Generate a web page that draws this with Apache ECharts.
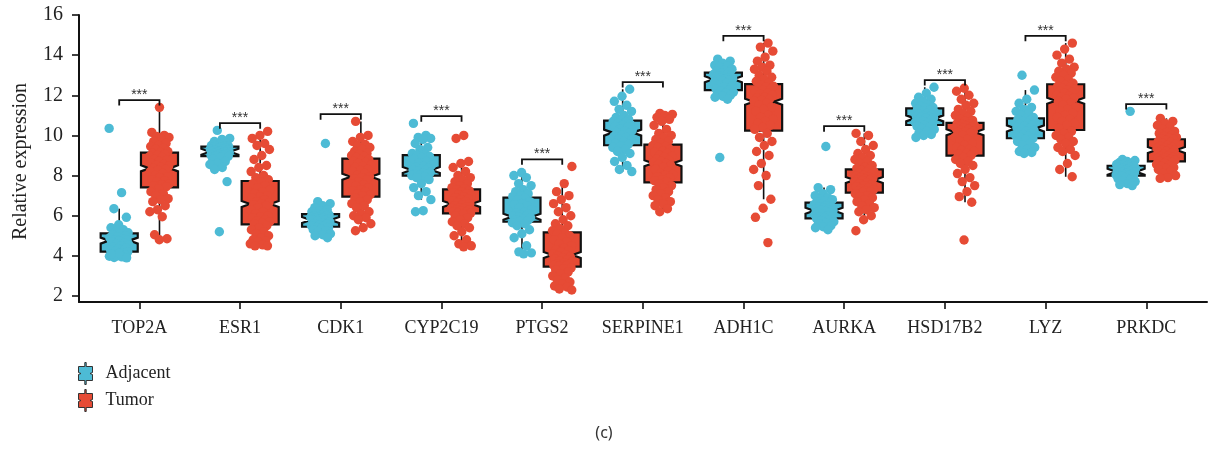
<!DOCTYPE html>
<html>
<head>
<meta charset="utf-8">
<script src="https://cdn.jsdelivr.net/npm/echarts@6/dist/echarts.min.js"></script>
<style>
  html, body { margin: 0; padding: 0; background: #fff; }
  #chart { width: 1208px; height: 449px; }
</style>
</head>
<body>
<div id="chart"></div>
<script>
// Genes on the x axis
const genes = ['TOP2A', 'ESR1', 'CDK1', 'CYP2C19', 'PTGS2', 'SERPINE1', 'ADH1C', 'AURKA', 'HSD17B2', 'LYZ', 'PRKDC'];
const groups = ['Adjacent', 'Tumor'];
const yTickLabels = [2, 4, 6, 8, 10, 12, 14, 16];
const significance = ['***', '***', '***', '***', '***', '***', '***', '***', '***', '***', '***'];

// Box statistics per gene: [lower whisker, Q1, median, Q3, upper whisker]
const adjacentBox = [
  [3.9, 4.21, 4.76, 5.12, 6.35],
  [8.3, 8.97, 9.19, 9.44, 9.85],
  [4.9, 5.45, 5.79, 6.08, 6.7],
  [6.8, 8.0, 8.28, 9.02, 10.0],
  [4.1, 5.7, 5.95, 6.9, 8.15],
  [8.2, 9.51, 10.14, 10.74, 12.3],
  [11.8, 12.26, 12.8, 13.13, 13.8],
  [5.3, 5.87, 6.25, 6.65, 7.4],
  [9.9, 10.52, 10.85, 11.35, 12.4],
  [9.1, 9.86, 10.35, 10.85, 12.26],
  [7.5, 8.0, 8.19, 8.49, 8.8]
];
const tumorBox = [
  [4.8, 7.41, 8.36, 9.14, 11.4],
  [4.5, 5.57, 6.58, 7.73, 10.2],
  [5.25, 6.95, 7.94, 8.84, 10.7],
  [4.45, 6.12, 6.58, 7.31, 8.7],
  [2.3, 3.46, 4.04, 5.17, 7.6],
  [6.2, 7.66, 8.61, 9.54, 11.1],
  [6.82, 10.24, 11.68, 12.56, 14.6],
  [5.8, 7.15, 7.78, 8.31, 10.1],
  [6.67, 8.99, 10.16, 10.63, 12.35],
  [7.94, 10.27, 11.73, 12.55, 14.6],
  [7.86, 8.71, 9.27, 9.81, 10.85]
];

// Individual sample values per gene
const adjacentPoints = [
  [10.35, 7.15, 6.35, 5.92, 5.55, 5.4, 5.3, 5.2, 5.15, 5.1, 5.05, 5.0, 4.95, 4.9, 4.85, 4.8, 4.78, 4.75, 4.7, 4.65, 4.6, 4.55, 4.5, 4.45, 4.4, 4.35, 4.3, 4.25, 4.22, 4.2, 4.15, 4.1, 4.05, 4.0, 3.98, 3.95, 3.92, 3.9, 4.12, 4.08],
  [10.25, 9.85, 9.8, 9.7, 9.6, 9.55, 9.5, 9.48, 9.46, 9.45, 9.42, 9.4, 9.38, 9.35, 9.32, 9.3, 9.28, 9.25, 9.22, 9.2, 9.19, 9.17, 9.15, 9.12, 9.1, 9.08, 9.05, 9.02, 9.0, 8.98, 8.95, 8.9, 8.8, 8.7, 8.6, 8.55, 8.4, 8.3, 7.7, 5.2],
  [9.6, 6.7, 6.6, 6.5, 6.4, 6.3, 6.25, 6.2, 6.15, 6.1, 6.05, 6.02, 6.0, 5.98, 5.95, 5.92, 5.9, 5.88, 5.85, 5.82, 5.8, 5.78, 5.75, 5.7, 5.65, 5.6, 5.58, 5.55, 5.5, 5.47, 5.42, 5.4, 5.35, 5.3, 5.25, 5.2, 5.1, 5.05, 5.0, 4.9],
  [10.6, 10.0, 9.9, 9.85, 9.8, 9.6, 9.4, 9.3, 9.1, 9.05, 9.0, 8.95, 8.9, 8.8, 8.7, 8.6, 8.5, 8.45, 8.4, 8.35, 8.3, 8.28, 8.25, 8.2, 8.15, 8.1, 8.08, 8.05, 8.02, 8.0, 7.95, 7.9, 7.8, 7.6, 7.4, 7.2, 7.0, 6.8, 6.25, 6.2],
  [8.15, 8.0, 7.9, 7.6, 7.5, 7.3, 7.2, 7.1, 7.0, 6.95, 6.88, 6.8, 6.7, 6.6, 6.55, 6.5, 6.4, 6.3, 6.2, 6.15, 6.1, 6.05, 6.0, 5.98, 5.95, 5.9, 5.85, 5.8, 5.75, 5.72, 5.65, 5.6, 5.5, 5.3, 5.1, 4.9, 4.5, 4.2, 4.15, 4.1],
  [12.3, 11.95, 11.7, 11.5, 11.3, 11.2, 11.0, 10.9, 10.8, 10.76, 10.7, 10.65, 10.6, 10.55, 10.5, 10.45, 10.4, 10.3, 10.25, 10.2, 10.15, 10.1, 10.0, 9.95, 9.9, 9.8, 9.75, 9.7, 9.6, 9.55, 9.45, 9.4, 9.3, 9.2, 9.1, 8.9, 8.7, 8.5, 8.3, 8.2],
  [13.8, 13.7, 13.6, 13.5, 13.45, 13.4, 13.3, 13.25, 13.2, 13.15, 13.1, 13.05, 13.0, 12.98, 12.95, 12.92, 12.9, 12.88, 12.85, 12.82, 12.8, 12.78, 12.75, 12.7, 12.65, 12.6, 12.5, 12.45, 12.4, 12.3, 12.25, 12.2, 12.15, 12.1, 12.05, 12.0, 11.95, 11.9, 11.8, 8.9],
  [9.45, 7.4, 7.3, 7.1, 7.0, 6.9, 6.85, 6.8, 6.75, 6.7, 6.62, 6.6, 6.55, 6.5, 6.45, 6.42, 6.4, 6.35, 6.3, 6.28, 6.25, 6.22, 6.2, 6.15, 6.1, 6.05, 6.0, 5.95, 5.92, 5.9, 5.85, 5.8, 5.75, 5.7, 5.65, 5.6, 5.5, 5.45, 5.4, 5.3],
  [12.4, 12.1, 11.9, 11.8, 11.7, 11.6, 11.5, 11.45, 11.4, 11.38, 11.3, 11.25, 11.2, 11.15, 11.1, 11.05, 11.0, 10.98, 10.95, 10.92, 10.9, 10.88, 10.85, 10.8, 10.75, 10.7, 10.65, 10.6, 10.58, 10.55, 10.5, 10.45, 10.4, 10.35, 10.3, 10.2, 10.1, 10.05, 10.0, 9.9],
  [13.0, 12.26, 11.8, 11.6, 11.4, 11.3, 11.2, 11.1, 11.0, 10.9, 10.82, 10.8, 10.75, 10.7, 10.65, 10.6, 10.55, 10.5, 10.45, 10.4, 10.35, 10.3, 10.25, 10.2, 10.15, 10.1, 10.05, 10.0, 9.95, 9.9, 9.85, 9.8, 9.7, 9.6, 9.5, 9.4, 9.3, 9.2, 9.15, 9.1],
  [11.2, 8.8, 8.75, 8.7, 8.65, 8.6, 8.58, 8.55, 8.52, 8.5, 8.47, 8.45, 8.42, 8.4, 8.38, 8.35, 8.32, 8.3, 8.28, 8.25, 8.22, 8.2, 8.18, 8.15, 8.12, 8.1, 8.08, 8.05, 8.03, 8.01, 7.98, 7.95, 7.9, 7.85, 7.8, 7.75, 7.7, 7.6, 7.55, 7.5]
];
const tumorPoints = [
  [11.4, 10.15, 10.0, 9.95, 9.9, 9.8, 9.7, 9.6, 9.5, 9.45, 9.35, 9.3, 9.2, 9.15, 9.1, 9.05, 9.0, 8.95, 8.9, 8.8, 8.75, 8.7, 8.6, 8.55, 8.5, 8.45, 8.4, 8.35, 8.3, 8.25, 8.2, 8.1, 8.0, 7.95, 7.9, 7.8, 7.75, 7.7, 7.6, 7.55, 7.5, 7.45, 7.35, 7.2, 7.1, 7.0, 6.85, 6.8, 6.7, 6.5, 6.3, 6.2, 5.95, 5.05, 4.85, 4.8],
  [10.2, 10.0, 9.85, 9.6, 9.5, 9.3, 9.0, 8.8, 8.5, 8.4, 8.2, 8.0, 7.9, 7.8, 7.7, 7.6, 7.5, 7.4, 7.3, 7.2, 7.1, 7.0, 6.95, 6.9, 6.8, 6.7, 6.65, 6.6, 6.55, 6.5, 6.4, 6.3, 6.2, 6.1, 6.0, 5.95, 5.9, 5.8, 5.75, 5.7, 5.65, 5.6, 5.5, 5.4, 5.3, 5.2, 5.1, 5.0, 4.9, 4.8, 4.75, 4.7, 4.6, 4.55, 4.5, 4.5],
  [10.7, 10.0, 9.9, 9.7, 9.55, 9.5, 9.4, 9.3, 9.2, 9.1, 9.05, 9.0, 8.95, 8.9, 8.8, 8.75, 8.7, 8.65, 8.6, 8.5, 8.45, 8.4, 8.3, 8.25, 8.2, 8.1, 8.0, 7.95, 7.9, 7.85, 7.8, 7.7, 7.6, 7.55, 7.5, 7.4, 7.3, 7.25, 7.2, 7.1, 7.05, 7.0, 6.9, 6.8, 6.7, 6.6, 6.5, 6.4, 6.2, 6.1, 6.0, 5.9, 5.8, 5.6, 5.4, 5.25],
  [10.0, 9.85, 8.7, 8.6, 8.4, 8.2, 8.0, 7.9, 7.8, 7.7, 7.6, 7.5, 7.4, 7.35, 7.3, 7.25, 7.2, 7.15, 7.1, 7.05, 7.0, 6.95, 6.9, 6.85, 6.8, 6.75, 6.7, 6.65, 6.6, 6.55, 6.5, 6.45, 6.4, 6.38, 6.35, 6.3, 6.28, 6.25, 6.2, 6.18, 6.15, 6.13, 6.1, 6.0, 5.9, 5.8, 5.7, 5.6, 5.5, 5.4, 5.2, 5.0, 4.8, 4.6, 4.5, 4.45],
  [8.45, 7.6, 7.2, 7.0, 6.8, 6.6, 6.4, 6.2, 6.0, 5.8, 5.6, 5.5, 5.35, 5.25, 5.15, 5.1, 5.0, 4.9, 4.8, 4.7, 4.6, 4.5, 4.4, 4.3, 4.25, 4.2, 4.1, 4.05, 4.0, 3.95, 3.9, 3.85, 3.8, 3.75, 3.7, 3.65, 3.6, 3.58, 3.55, 3.52, 3.5, 3.48, 3.4, 3.35, 3.3, 3.2, 3.1, 3.0, 2.9, 2.8, 2.7, 2.6, 2.5, 2.45, 2.35, 2.3],
  [11.1, 11.05, 11.0, 10.9, 10.8, 10.7, 10.5, 10.3, 10.1, 10.0, 9.9, 9.8, 9.7, 9.6, 9.5, 9.45, 9.4, 9.3, 9.2, 9.15, 9.1, 9.0, 8.95, 8.9, 8.8, 8.75, 8.7, 8.65, 8.6, 8.55, 8.5, 8.4, 8.3, 8.2, 8.1, 8.05, 8.0, 7.95, 7.9, 7.8, 7.75, 7.7, 7.6, 7.5, 7.4, 7.3, 7.2, 7.1, 7.0, 6.9, 6.8, 6.7, 6.6, 6.5, 6.35, 6.2],
  [14.6, 14.4, 14.2, 13.9, 13.7, 13.5, 13.4, 13.3, 13.2, 13.0, 12.9, 12.8, 12.7, 12.6, 12.5, 12.45, 12.4, 12.35, 12.3, 12.25, 12.2, 12.1, 12.05, 12.0, 11.9, 11.85, 11.8, 11.75, 11.7, 11.6, 11.5, 11.4, 11.3, 11.2, 11.0, 10.9, 10.8, 10.7, 10.6, 10.5, 10.4, 10.3, 10.1, 9.9, 9.7, 9.5, 9.2, 9.0, 8.6, 8.3, 8.0, 7.5, 6.82, 6.37, 5.92, 4.66],
  [10.1, 10.0, 9.7, 9.5, 9.3, 9.1, 9.0, 8.9, 8.8, 8.7, 8.6, 8.5, 8.4, 8.35, 8.3, 8.25, 8.2, 8.15, 8.1, 8.05, 8.0, 7.98, 7.95, 7.9, 7.85, 7.82, 7.8, 7.78, 7.75, 7.7, 7.65, 7.6, 7.55, 7.5, 7.45, 7.4, 7.35, 7.3, 7.25, 7.22, 7.2, 7.17, 7.1, 7.0, 6.95, 6.9, 6.8, 6.7, 6.6, 6.5, 6.4, 6.3, 6.2, 6.0, 5.8, 5.25],
  [12.35, 12.2, 12.0, 11.8, 11.6, 11.5, 11.3, 11.2, 11.1, 11.0, 10.9, 10.8, 10.75, 10.7, 10.6, 10.58, 10.55, 10.5, 10.48, 10.45, 10.4, 10.38, 10.35, 10.3, 10.25, 10.2, 10.18, 10.15, 10.1, 10.0, 9.9, 9.8, 9.7, 9.6, 9.5, 9.4, 9.3, 9.25, 9.2, 9.1, 9.05, 9.0, 8.9, 8.8, 8.7, 8.6, 8.5, 8.3, 8.1, 7.9, 7.7, 7.5, 7.2, 6.95, 6.67, 4.79],
  [14.6, 14.3, 14.0, 13.8, 13.6, 13.4, 13.3, 13.2, 13.1, 13.0, 12.9, 12.8, 12.7, 12.6, 12.5, 12.45, 12.4, 12.35, 12.3, 12.25, 12.2, 12.15, 12.1, 12.0, 11.95, 11.9, 11.85, 11.8, 11.7, 11.6, 11.5, 11.4, 11.3, 11.2, 11.1, 11.0, 10.9, 10.8, 10.7, 10.6, 10.5, 10.35, 10.2, 10.1, 10.0, 9.9, 9.8, 9.7, 9.6, 9.4, 9.3, 9.2, 9.0, 8.6, 8.3, 7.94],
  [10.85, 10.7, 10.6, 10.5, 10.4, 10.3, 10.2, 10.15, 10.1, 10.0, 9.95, 9.9, 9.87, 9.84, 9.8, 9.75, 9.7, 9.65, 9.6, 9.55, 9.5, 9.45, 9.4, 9.38, 9.35, 9.3, 9.28, 9.25, 9.2, 9.15, 9.1, 9.05, 9.0, 8.98, 8.95, 8.9, 8.88, 8.85, 8.8, 8.78, 8.75, 8.72, 8.7, 8.65, 8.6, 8.55, 8.5, 8.45, 8.4, 8.35, 8.3, 8.2, 8.1, 8.0, 7.9, 7.86]
];

// ---- styling ----
const COLORS = ['#4DBBD5', '#E64B35'];
const INK = '#111111';
const TEXT = '#222222';
const SERIF = '"Liberation Serif", "Times New Roman", serif';
const DODGE = 0.2;      // group offset from the category centre, in bands
const HALF_BOX = 0.184; // half box width, in bands
const JITTER = 0.1;     // horizontal spread of the points, in bands
const POINT_R = 4.7;
const NOTCH_PX = 3;     // half height of the median notch, in pixels

const boxes = [adjacentBox, tumorBox];
const points = [adjacentPoints, tumorPoints];

function groupCenter(api, cat, g) {
  const band = api.size([1, 0])[0];
  return api.coord([cat, 0])[0] + (g ? 1 : -1) * DODGE * band;
}

// notched box with whiskers
function renderBox(params, api) {
  const cat = api.value(0), g = api.value(1);
  const lo = api.value(2), q1 = api.value(3), med = api.value(4), q3 = api.value(5), hi = api.value(6);
  const band = api.size([1, 0])[0];
  const cx = groupCenter(api, cat, g);
  const hw = HALF_BOX * band;
  const d = hw * 0.45;
  const y = v => api.coord([cat, v])[1];
  const L = cx - hw, R = cx + hw;
  const yq1 = y(q1), yq3 = y(q3), ym = y(med);
  const ynu = ym - NOTCH_PX, ynl = ym + NOTCH_PX;
  return {
    type: 'group',
    children: [
      { type: 'line', shape: { x1: cx, y1: y(hi), x2: cx, y2: yq3 }, style: { stroke: INK, lineWidth: 1.6 } },
      { type: 'line', shape: { x1: cx, y1: yq1, x2: cx, y2: y(lo) }, style: { stroke: INK, lineWidth: 1.6 } },
      {
        type: 'polygon',
        shape: { points: [[L, yq3], [R, yq3], [R, ynu], [R - d, ym], [R, ynl], [R, yq1], [L, yq1], [L, ynl], [L + d, ym], [L, ynu]] },
        style: { fill: COLORS[g], stroke: INK, lineWidth: 2.2 }
      },
      { type: 'line', shape: { x1: L + d, y1: ym, x2: R - d, y2: ym }, style: { stroke: INK, lineWidth: 3.5 } }
    ]
  };
}

// jittered sample points (golden-ratio spacing keeps the spread even)
function renderPoint(params, api) {
  const cat = api.value(0), g = api.value(1), v = api.value(2), k = api.value(3);
  const band = api.size([1, 0])[0];
  const j = ((k * 0.6180339887 + 0.37 * cat + 0.5 * g) % 1) * 2 - 1;
  const x = groupCenter(api, cat, g) + j * JITTER * band;
  const yv = api.coord([cat, v])[1];
  return { type: 'circle', shape: { cx: x, cy: yv, r: POINT_R }, style: { fill: COLORS[g] } };
}

// significance bracket above each gene
function renderBracket(params, api) {
  const cat = api.value(0), top = api.value(1);
  const xa = groupCenter(api, cat, 0), xb = groupCenter(api, cat, 1);
  const yt = api.coord([cat, top])[1];
  return {
    type: 'group',
    children: [
      { type: 'polyline', shape: { points: [[xa, yt + 5.5], [xa, yt], [xb, yt], [xb, yt + 5.5]] }, style: { stroke: INK, lineWidth: 1.8, fill: null } },
      {
        type: 'text', x: (xa + xb) / 2, y: yt + 2,
        style: { text: significance[cat], fill: '#333', fontSize: 14, fontFamily: '"Liberation Sans", Arial, sans-serif', align: 'center', verticalAlign: 'bottom' }
      }
    ]
  };
}

const boxSeries = groups.map((name, g) => ({
  name, type: 'custom', xAxisIndex: 0, yAxisIndex: 0, z: 2,
  itemStyle: { color: COLORS[g] },
  renderItem: renderBox,
  data: genes.map((_, i) => [i, g].concat(boxes[g][i]))
}));

const pointSeries = groups.map((name, g) => ({
  name, type: 'custom', xAxisIndex: 0, yAxisIndex: 0, z: 3,
  itemStyle: { color: COLORS[g] },
  renderItem: renderPoint,
  data: genes.flatMap((_, i) => points[g][i].map((v, k) => [i, g, v, k]))
}));

const bracketSeries = {
  type: 'custom', xAxisIndex: 0, yAxisIndex: 0, z: 4, silent: true,
  renderItem: renderBracket,
  data: genes.map((_, i) => [i, Math.max(...adjacentPoints[i], ...tumorPoints[i], adjacentBox[i][4], tumorBox[i][4]) + 0.36])
};

const LEGEND_ICON = 'path://M6.3,0 H7.7 V4 H14 V10 L11.5,11 L14,12 V18 H7.7 V22 H6.3 V18 H0 V12 L2.5,11 L0,10 V4 H6.3 Z';

const chart = echarts.init(document.getElementById('chart'), null, { renderer: 'canvas' });
chart.setOption({
  animation: false,
  backgroundColor: '#ffffff',
  title: {
    text: '(c)', left: 'center', top: 420,
    textStyle: { fontFamily: '"Noto Sans", "DejaVu Sans", sans-serif', fontSize: 16, fontWeight: 'normal', color: '#333' }
  },
  legend: {
    orient: 'vertical', left: 78, top: 362, padding: 0, itemWidth: 14, itemHeight: 22, itemGap: 4,
    selectedMode: false,
    data: groups.map(name => ({ name, icon: LEGEND_ICON })),
    itemStyle: { borderColor: '#333', borderWidth: 1 },
    textStyle: { fontFamily: SERIF, fontSize: 18, color: TEXT, padding: [0, 0, 0, 8] }
  },
  grid: [
    { left: 89, right: 11.4, top: 15, bottom: 153 },
    { left: 79, right: 1, top: 15, bottom: 147 }
  ],
  xAxis: [
    {
      type: 'category', gridIndex: 0, data: genes, offset: 6,
      axisLine: { show: false },
      axisTick: { show: true, alignWithLabel: true, interval: 0, length: 7, lineStyle: { color: INK, width: 1.6 } },
      axisLabel: { interval: 0, fontFamily: SERIF, fontSize: 18, color: TEXT, margin: 17 },
      splitLine: { show: false }
    },
    {
      type: 'value', gridIndex: 1, min: 0, max: 1,
      axisLine: { show: true, onZero: false, lineStyle: { color: INK, width: 2 } },
      axisTick: { show: false }, axisLabel: { show: false }, splitLine: { show: false }
    }
  ],
  yAxis: [
    {
      type: 'value', gridIndex: 0,
      min: yTickLabels[0], max: yTickLabels[yTickLabels.length - 1], interval: yTickLabels[1] - yTickLabels[0],
      offset: 10,
      axisLine: { show: false },
      axisTick: { show: true, length: 7, lineStyle: { color: INK, width: 1.6 } },
      axisLabel: { fontFamily: SERIF, fontSize: 20, color: TEXT, margin: 16 },
      splitLine: { show: false },
      name: 'Relative expression', nameLocation: 'middle', nameRotate: 90, nameGap: 48,
      nameTextStyle: { fontFamily: SERIF, fontSize: 20, color: TEXT, padding: [0, 12, 0, 0] }
    },
    {
      type: 'value', gridIndex: 1, min: 0, max: 1,
      axisLine: { show: true, onZero: false, lineStyle: { color: INK, width: 2 } },
      axisTick: { show: false }, axisLabel: { show: false }, splitLine: { show: false }
    }
  ],
  series: [...boxSeries, ...pointSeries, bracketSeries]
});
</script>
</body>
</html>
